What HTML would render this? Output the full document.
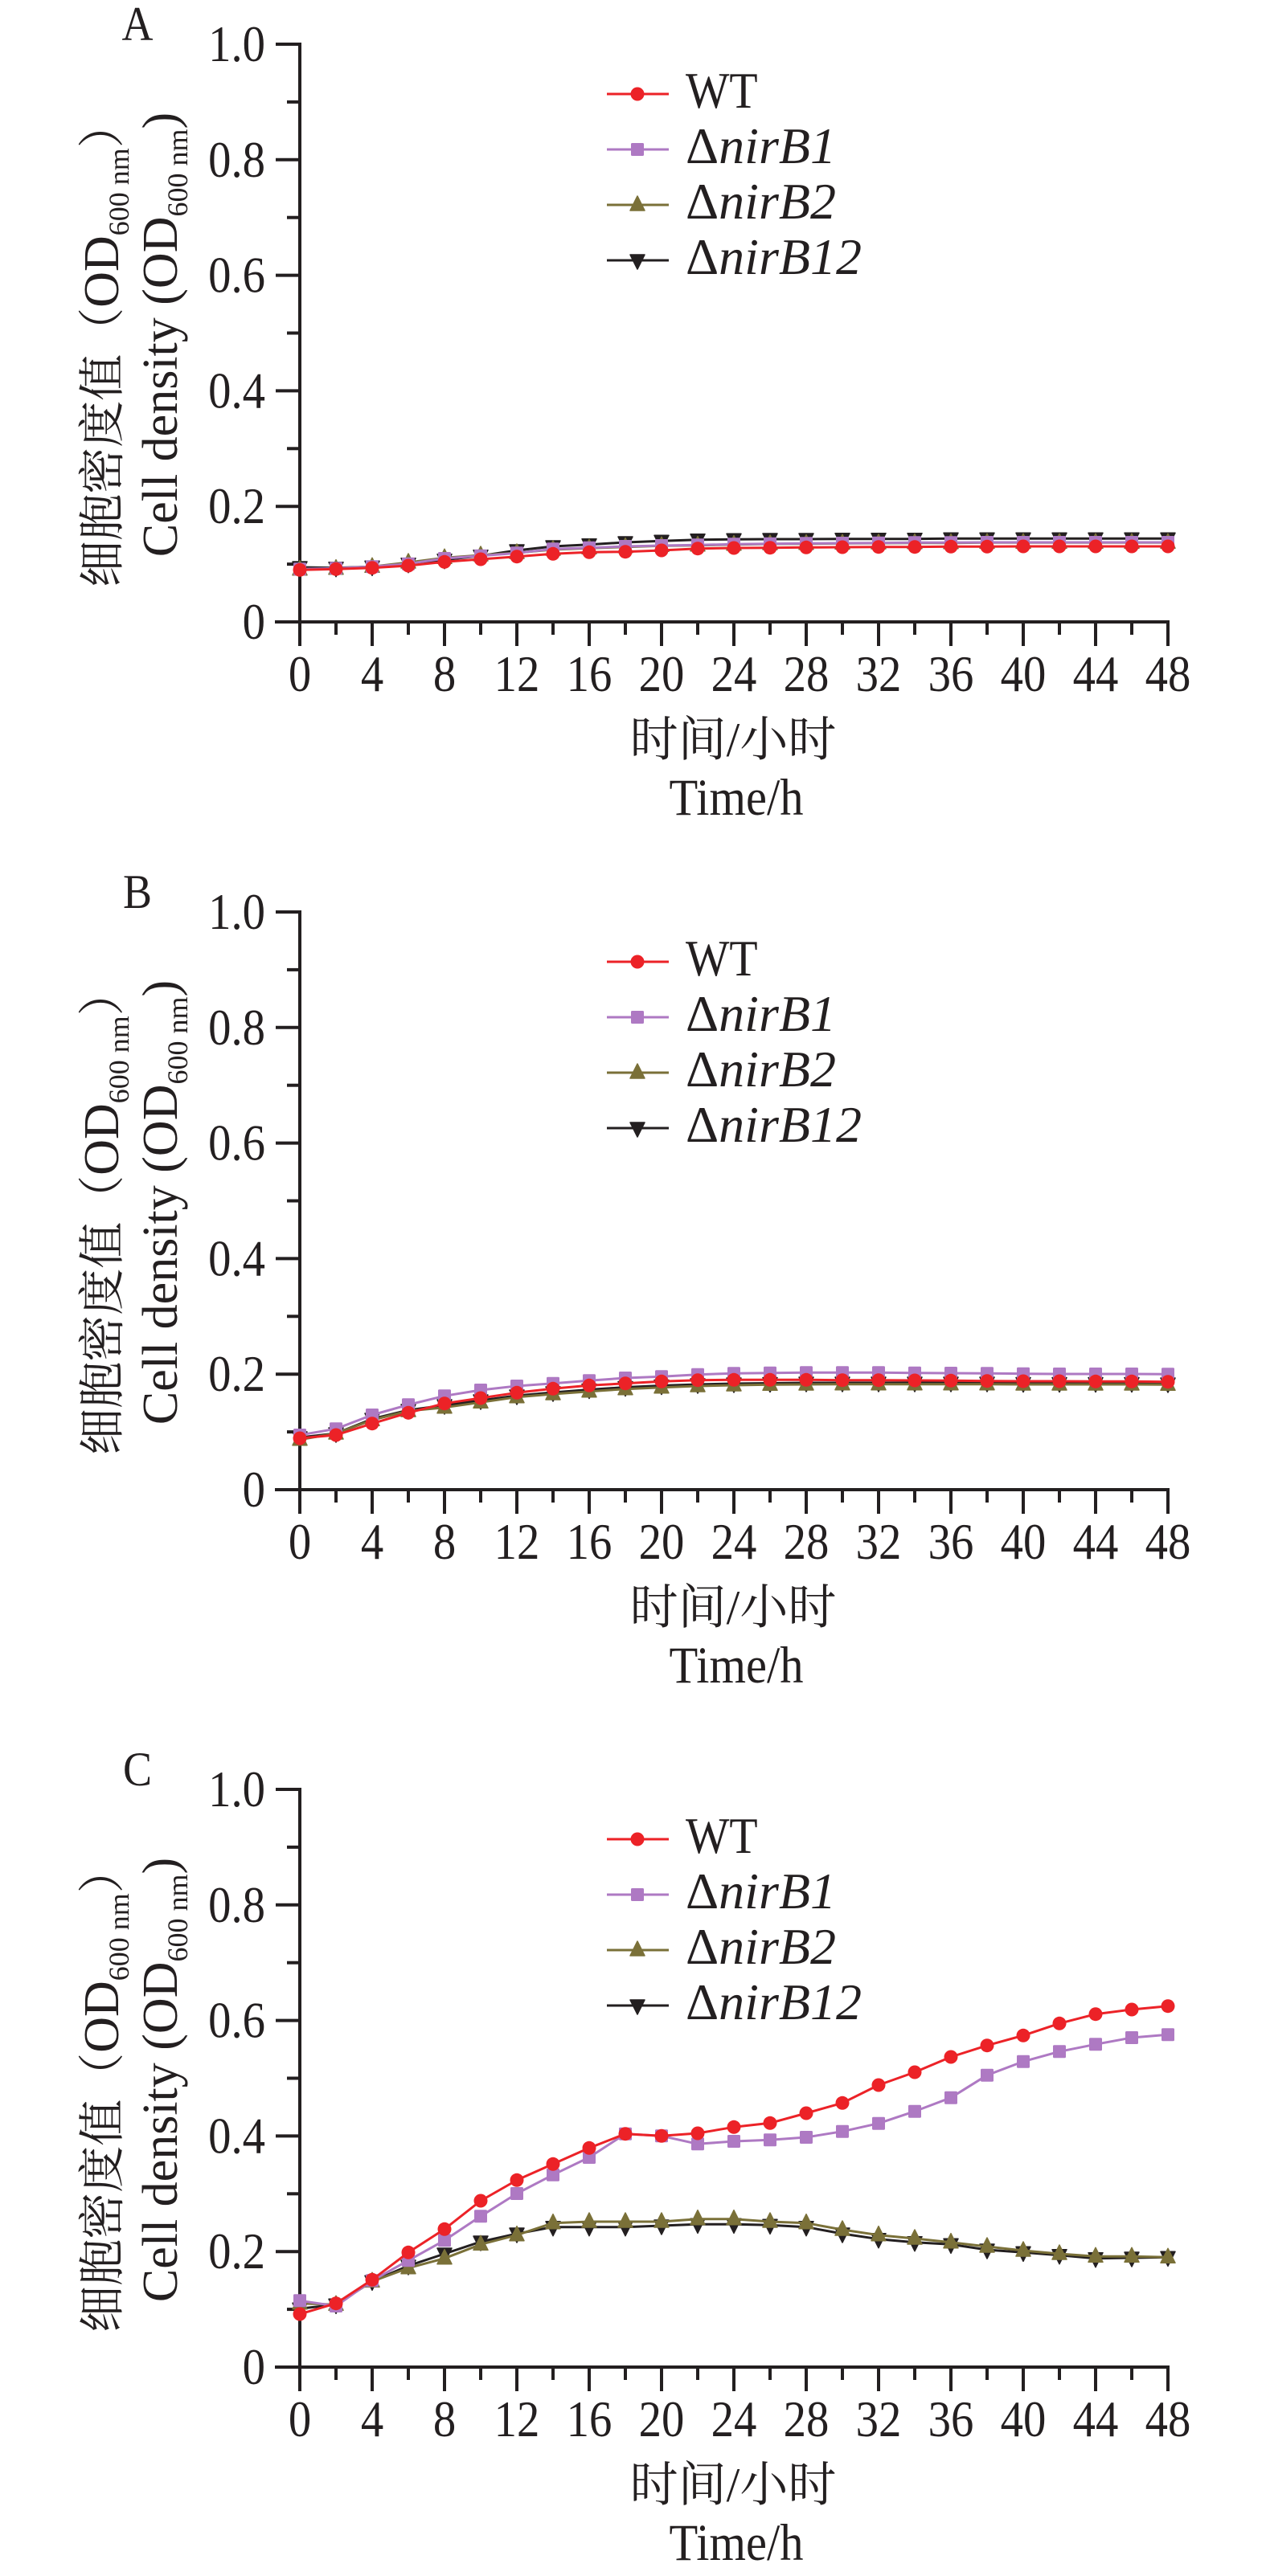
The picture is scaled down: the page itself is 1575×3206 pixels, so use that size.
<!DOCTYPE html>
<html>
<head>
<meta charset="utf-8">
<style>
  html, body { margin: 0; padding: 0; background: #ffffff; }
  svg { display: block; }
  text { font-family: "Liberation Serif", "Noto Serif CJK SC", serif; fill: #231F20; }
</style>
</head>
<body>
<svg width="1575" height="3206" viewBox="0 0 1575 3206" xmlns="http://www.w3.org/2000/svg">
  <rect x="0" y="0" width="1575" height="3206" fill="#ffffff"/>
  <defs>
    <marker id="mWT" markerUnits="userSpaceOnUse" markerWidth="20" markerHeight="20" refX="0" refY="0" overflow="visible">
      <circle cx="0" cy="0" r="8.5" fill="#EC2227"/>
    </marker>
    <marker id="mB1" markerUnits="userSpaceOnUse" markerWidth="20" markerHeight="20" refX="0" refY="0" overflow="visible">
      <rect x="-8" y="-8" width="16" height="16" rx="1.5" fill="#AE79C3"/>
    </marker>
    <marker id="mB2" markerUnits="userSpaceOnUse" markerWidth="20" markerHeight="20" refX="0" refY="0" overflow="visible">
      <polygon points="0,-11 9,7 -9,7" fill="#7A7038" stroke="#7A7038" stroke-width="1.5" stroke-linejoin="round"/>
    </marker>
    <marker id="mB12" markerUnits="userSpaceOnUse" markerWidth="20" markerHeight="20" refX="0" refY="0" overflow="visible">
      <polygon points="0,11 9,-7 -9,-7" fill="#231F20" stroke="#231F20" stroke-width="1.5" stroke-linejoin="round"/>
    </marker>
  </defs>

  <!-- ===================== PANEL TEMPLATE: A ===================== -->
  <g transform="translate(0,55)">
    <text transform="translate(171,-5) scale(0.9,1)" text-anchor="middle" font-size="60">A</text>
    <!-- axes -->
    <g stroke="#231F20" stroke-width="4" fill="none">
      <line x1="373" y1="-2" x2="373" y2="749"/>
      <line x1="342" y1="719" x2="1455" y2="719"/>
      <line x1="343" y1="0" x2="373" y2="0"/>
      <line x1="343" y1="143.8" x2="373" y2="143.8"/>
      <line x1="343" y1="287.6" x2="373" y2="287.6"/>
      <line x1="343" y1="431.4" x2="373" y2="431.4"/>
      <line x1="343" y1="575.2" x2="373" y2="575.2"/>
      <line x1="357" y1="71.9" x2="373" y2="71.9"/>
      <line x1="357" y1="215.7" x2="373" y2="215.7"/>
      <line x1="357" y1="359.5" x2="373" y2="359.5"/>
      <line x1="357" y1="503.3" x2="373" y2="503.3"/>
      <line x1="357" y1="647.1" x2="373" y2="647.1"/>
      <line x1="463" y1="719" x2="463" y2="749"/>
      <line x1="553" y1="719" x2="553" y2="749"/>
      <line x1="643" y1="719" x2="643" y2="749"/>
      <line x1="733" y1="719" x2="733" y2="749"/>
      <line x1="823" y1="719" x2="823" y2="749"/>
      <line x1="913" y1="719" x2="913" y2="749"/>
      <line x1="1003" y1="719" x2="1003" y2="749"/>
      <line x1="1093" y1="719" x2="1093" y2="749"/>
      <line x1="1183" y1="719" x2="1183" y2="749"/>
      <line x1="1273" y1="719" x2="1273" y2="749"/>
      <line x1="1363" y1="719" x2="1363" y2="749"/>
      <line x1="1453" y1="719" x2="1453" y2="749"/>
      <line x1="418" y1="719" x2="418" y2="735"/>
      <line x1="508" y1="719" x2="508" y2="735"/>
      <line x1="598" y1="719" x2="598" y2="735"/>
      <line x1="688" y1="719" x2="688" y2="735"/>
      <line x1="778" y1="719" x2="778" y2="735"/>
      <line x1="868" y1="719" x2="868" y2="735"/>
      <line x1="958" y1="719" x2="958" y2="735"/>
      <line x1="1048" y1="719" x2="1048" y2="735"/>
      <line x1="1138" y1="719" x2="1138" y2="735"/>
      <line x1="1228" y1="719" x2="1228" y2="735"/>
      <line x1="1318" y1="719" x2="1318" y2="735"/>
      <line x1="1408" y1="719" x2="1408" y2="735"/>
    </g>
    <!-- y tick labels -->
    <g font-size="63" text-anchor="end">
      <text transform="translate(330,21) scale(0.9,1)">1.0</text>
      <text transform="translate(330,164.8) scale(0.9,1)">0.8</text>
      <text transform="translate(330,308.6) scale(0.9,1)">0.6</text>
      <text transform="translate(330,452.4) scale(0.9,1)">0.4</text>
      <text transform="translate(330,596.2) scale(0.9,1)">0.2</text>
      <text transform="translate(330,740) scale(0.9,1)">0</text>
    </g>
    <!-- x tick labels -->
    <g font-size="63" text-anchor="middle">
      <text transform="translate(373,805) scale(0.9,1)">0</text>
      <text transform="translate(463,805) scale(0.9,1)">4</text>
      <text transform="translate(553,805) scale(0.9,1)">8</text>
      <text transform="translate(643,805) scale(0.9,1)">12</text>
      <text transform="translate(733,805) scale(0.9,1)">16</text>
      <text transform="translate(823,805) scale(0.9,1)">20</text>
      <text transform="translate(913,805) scale(0.9,1)">24</text>
      <text transform="translate(1003,805) scale(0.9,1)">28</text>
      <text transform="translate(1093,805) scale(0.9,1)">32</text>
      <text transform="translate(1183,805) scale(0.9,1)">36</text>
      <text transform="translate(1273,805) scale(0.9,1)">40</text>
      <text transform="translate(1363,805) scale(0.9,1)">44</text>
      <text transform="translate(1453,805) scale(0.9,1)">48</text>
    </g>
    <!-- axis titles -->
    <text x="912" y="886" text-anchor="middle" font-size="60">时间/小时</text>
    <text transform="translate(916,959) scale(0.9,1)" text-anchor="middle" font-size="65">Time/h</text>
    <text transform="translate(147,373.5) rotate(-90)" text-anchor="middle" font-size="62"><tspan font-size="58">细胞密度值（</tspan>OD<tspan font-size="36" dy="13">600 nm</tspan><tspan font-size="58" dy="-13">）</tspan></text>
    <text transform="translate(220,361.5) rotate(-90)" text-anchor="middle" font-size="62">Cell density (OD<tspan font-size="36" dy="13">600 nm</tspan><tspan dy="-13">)</tspan></text>
    <!-- legend -->
    <polyline points="755,62 793,62 832,62" fill="none" stroke="#EC2227" stroke-width="3" marker-mid="url(#mWT)"/>
    <polyline points="755,131 793,131 832,131" fill="none" stroke="#AE79C3" stroke-width="3" marker-mid="url(#mB1)"/>
    <polyline points="755,200 793,200 832,200" fill="none" stroke="#7A7038" stroke-width="3" marker-mid="url(#mB2)"/>
    <polyline points="755,269 793,269 832,269" fill="none" stroke="#231F20" stroke-width="3" marker-mid="url(#mB12)"/>
    <text transform="translate(853,79) scale(0.9,1)" font-size="64">WT</text>
    <text x="853" y="148" font-size="64">Δ<tspan font-style="italic">nirB1</tspan></text>
    <text x="853" y="217" font-size="64">Δ<tspan font-style="italic">nirB2</tspan></text>
    <text x="853" y="286" font-size="64">Δ<tspan font-style="italic">nirB12</tspan></text>
  </g>

  <!-- ===================== PANEL B ===================== -->
  <g transform="translate(0,1135)">
    <text transform="translate(171,-5) scale(0.9,1)" text-anchor="middle" font-size="60">B</text>
    <g stroke="#231F20" stroke-width="4" fill="none">
      <line x1="373" y1="-2" x2="373" y2="749"/>
      <line x1="342" y1="719" x2="1455" y2="719"/>
      <line x1="343" y1="0" x2="373" y2="0"/>
      <line x1="343" y1="143.8" x2="373" y2="143.8"/>
      <line x1="343" y1="287.6" x2="373" y2="287.6"/>
      <line x1="343" y1="431.4" x2="373" y2="431.4"/>
      <line x1="343" y1="575.2" x2="373" y2="575.2"/>
      <line x1="357" y1="71.9" x2="373" y2="71.9"/>
      <line x1="357" y1="215.7" x2="373" y2="215.7"/>
      <line x1="357" y1="359.5" x2="373" y2="359.5"/>
      <line x1="357" y1="503.3" x2="373" y2="503.3"/>
      <line x1="357" y1="647.1" x2="373" y2="647.1"/>
      <line x1="463" y1="719" x2="463" y2="749"/>
      <line x1="553" y1="719" x2="553" y2="749"/>
      <line x1="643" y1="719" x2="643" y2="749"/>
      <line x1="733" y1="719" x2="733" y2="749"/>
      <line x1="823" y1="719" x2="823" y2="749"/>
      <line x1="913" y1="719" x2="913" y2="749"/>
      <line x1="1003" y1="719" x2="1003" y2="749"/>
      <line x1="1093" y1="719" x2="1093" y2="749"/>
      <line x1="1183" y1="719" x2="1183" y2="749"/>
      <line x1="1273" y1="719" x2="1273" y2="749"/>
      <line x1="1363" y1="719" x2="1363" y2="749"/>
      <line x1="1453" y1="719" x2="1453" y2="749"/>
      <line x1="418" y1="719" x2="418" y2="735"/>
      <line x1="508" y1="719" x2="508" y2="735"/>
      <line x1="598" y1="719" x2="598" y2="735"/>
      <line x1="688" y1="719" x2="688" y2="735"/>
      <line x1="778" y1="719" x2="778" y2="735"/>
      <line x1="868" y1="719" x2="868" y2="735"/>
      <line x1="958" y1="719" x2="958" y2="735"/>
      <line x1="1048" y1="719" x2="1048" y2="735"/>
      <line x1="1138" y1="719" x2="1138" y2="735"/>
      <line x1="1228" y1="719" x2="1228" y2="735"/>
      <line x1="1318" y1="719" x2="1318" y2="735"/>
      <line x1="1408" y1="719" x2="1408" y2="735"/>
    </g>
    <g font-size="63" text-anchor="end">
      <text transform="translate(330,21) scale(0.9,1)">1.0</text>
      <text transform="translate(330,164.8) scale(0.9,1)">0.8</text>
      <text transform="translate(330,308.6) scale(0.9,1)">0.6</text>
      <text transform="translate(330,452.4) scale(0.9,1)">0.4</text>
      <text transform="translate(330,596.2) scale(0.9,1)">0.2</text>
      <text transform="translate(330,740) scale(0.9,1)">0</text>
    </g>
    <g font-size="63" text-anchor="middle">
      <text transform="translate(373,805) scale(0.9,1)">0</text>
      <text transform="translate(463,805) scale(0.9,1)">4</text>
      <text transform="translate(553,805) scale(0.9,1)">8</text>
      <text transform="translate(643,805) scale(0.9,1)">12</text>
      <text transform="translate(733,805) scale(0.9,1)">16</text>
      <text transform="translate(823,805) scale(0.9,1)">20</text>
      <text transform="translate(913,805) scale(0.9,1)">24</text>
      <text transform="translate(1003,805) scale(0.9,1)">28</text>
      <text transform="translate(1093,805) scale(0.9,1)">32</text>
      <text transform="translate(1183,805) scale(0.9,1)">36</text>
      <text transform="translate(1273,805) scale(0.9,1)">40</text>
      <text transform="translate(1363,805) scale(0.9,1)">44</text>
      <text transform="translate(1453,805) scale(0.9,1)">48</text>
    </g>
    <text x="912" y="886" text-anchor="middle" font-size="60">时间/小时</text>
    <text transform="translate(916,959) scale(0.9,1)" text-anchor="middle" font-size="65">Time/h</text>
    <text transform="translate(147,373.5) rotate(-90)" text-anchor="middle" font-size="62"><tspan font-size="58">细胞密度值（</tspan>OD<tspan font-size="36" dy="13">600 nm</tspan><tspan font-size="58" dy="-13">）</tspan></text>
    <text transform="translate(220,361.5) rotate(-90)" text-anchor="middle" font-size="62">Cell density (OD<tspan font-size="36" dy="13">600 nm</tspan><tspan dy="-13">)</tspan></text>
    <polyline points="755,62 793,62 832,62" fill="none" stroke="#EC2227" stroke-width="3" marker-mid="url(#mWT)"/>
    <polyline points="755,131 793,131 832,131" fill="none" stroke="#AE79C3" stroke-width="3" marker-mid="url(#mB1)"/>
    <polyline points="755,200 793,200 832,200" fill="none" stroke="#7A7038" stroke-width="3" marker-mid="url(#mB2)"/>
    <polyline points="755,269 793,269 832,269" fill="none" stroke="#231F20" stroke-width="3" marker-mid="url(#mB12)"/>
    <text transform="translate(853,79) scale(0.9,1)" font-size="64">WT</text>
    <text x="853" y="148" font-size="64">Δ<tspan font-style="italic">nirB1</tspan></text>
    <text x="853" y="217" font-size="64">Δ<tspan font-style="italic">nirB2</tspan></text>
    <text x="853" y="286" font-size="64">Δ<tspan font-style="italic">nirB12</tspan></text>
  </g>

  <!-- ===================== PANEL C ===================== -->
  <g transform="translate(0,2227)">
    <text transform="translate(171,-5) scale(0.9,1)" text-anchor="middle" font-size="60">C</text>
    <g stroke="#231F20" stroke-width="4" fill="none">
      <line x1="373" y1="-2" x2="373" y2="749"/>
      <line x1="342" y1="719" x2="1455" y2="719"/>
      <line x1="343" y1="0" x2="373" y2="0"/>
      <line x1="343" y1="143.8" x2="373" y2="143.8"/>
      <line x1="343" y1="287.6" x2="373" y2="287.6"/>
      <line x1="343" y1="431.4" x2="373" y2="431.4"/>
      <line x1="343" y1="575.2" x2="373" y2="575.2"/>
      <line x1="357" y1="71.9" x2="373" y2="71.9"/>
      <line x1="357" y1="215.7" x2="373" y2="215.7"/>
      <line x1="357" y1="359.5" x2="373" y2="359.5"/>
      <line x1="357" y1="503.3" x2="373" y2="503.3"/>
      <line x1="357" y1="647.1" x2="373" y2="647.1"/>
      <line x1="463" y1="719" x2="463" y2="749"/>
      <line x1="553" y1="719" x2="553" y2="749"/>
      <line x1="643" y1="719" x2="643" y2="749"/>
      <line x1="733" y1="719" x2="733" y2="749"/>
      <line x1="823" y1="719" x2="823" y2="749"/>
      <line x1="913" y1="719" x2="913" y2="749"/>
      <line x1="1003" y1="719" x2="1003" y2="749"/>
      <line x1="1093" y1="719" x2="1093" y2="749"/>
      <line x1="1183" y1="719" x2="1183" y2="749"/>
      <line x1="1273" y1="719" x2="1273" y2="749"/>
      <line x1="1363" y1="719" x2="1363" y2="749"/>
      <line x1="1453" y1="719" x2="1453" y2="749"/>
      <line x1="418" y1="719" x2="418" y2="735"/>
      <line x1="508" y1="719" x2="508" y2="735"/>
      <line x1="598" y1="719" x2="598" y2="735"/>
      <line x1="688" y1="719" x2="688" y2="735"/>
      <line x1="778" y1="719" x2="778" y2="735"/>
      <line x1="868" y1="719" x2="868" y2="735"/>
      <line x1="958" y1="719" x2="958" y2="735"/>
      <line x1="1048" y1="719" x2="1048" y2="735"/>
      <line x1="1138" y1="719" x2="1138" y2="735"/>
      <line x1="1228" y1="719" x2="1228" y2="735"/>
      <line x1="1318" y1="719" x2="1318" y2="735"/>
      <line x1="1408" y1="719" x2="1408" y2="735"/>
    </g>
    <g font-size="63" text-anchor="end">
      <text transform="translate(330,21) scale(0.9,1)">1.0</text>
      <text transform="translate(330,164.8) scale(0.9,1)">0.8</text>
      <text transform="translate(330,308.6) scale(0.9,1)">0.6</text>
      <text transform="translate(330,452.4) scale(0.9,1)">0.4</text>
      <text transform="translate(330,596.2) scale(0.9,1)">0.2</text>
      <text transform="translate(330,740) scale(0.9,1)">0</text>
    </g>
    <g font-size="63" text-anchor="middle">
      <text transform="translate(373,805) scale(0.9,1)">0</text>
      <text transform="translate(463,805) scale(0.9,1)">4</text>
      <text transform="translate(553,805) scale(0.9,1)">8</text>
      <text transform="translate(643,805) scale(0.9,1)">12</text>
      <text transform="translate(733,805) scale(0.9,1)">16</text>
      <text transform="translate(823,805) scale(0.9,1)">20</text>
      <text transform="translate(913,805) scale(0.9,1)">24</text>
      <text transform="translate(1003,805) scale(0.9,1)">28</text>
      <text transform="translate(1093,805) scale(0.9,1)">32</text>
      <text transform="translate(1183,805) scale(0.9,1)">36</text>
      <text transform="translate(1273,805) scale(0.9,1)">40</text>
      <text transform="translate(1363,805) scale(0.9,1)">44</text>
      <text transform="translate(1453,805) scale(0.9,1)">48</text>
    </g>
    <text x="912" y="886" text-anchor="middle" font-size="60">时间/小时</text>
    <text transform="translate(916,959) scale(0.9,1)" text-anchor="middle" font-size="65">Time/h</text>
    <text transform="translate(147,373.5) rotate(-90)" text-anchor="middle" font-size="62"><tspan font-size="58">细胞密度值（</tspan>OD<tspan font-size="36" dy="13">600 nm</tspan><tspan font-size="58" dy="-13">）</tspan></text>
    <text transform="translate(220,361.5) rotate(-90)" text-anchor="middle" font-size="62">Cell density (OD<tspan font-size="36" dy="13">600 nm</tspan><tspan dy="-13">)</tspan></text>
    <polyline points="755,62 793,62 832,62" fill="none" stroke="#EC2227" stroke-width="3" marker-mid="url(#mWT)"/>
    <polyline points="755,131 793,131 832,131" fill="none" stroke="#AE79C3" stroke-width="3" marker-mid="url(#mB1)"/>
    <polyline points="755,200 793,200 832,200" fill="none" stroke="#7A7038" stroke-width="3" marker-mid="url(#mB2)"/>
    <polyline points="755,269 793,269 832,269" fill="none" stroke="#231F20" stroke-width="3" marker-mid="url(#mB12)"/>
    <text transform="translate(853,79) scale(0.9,1)" font-size="64">WT</text>
    <text x="853" y="148" font-size="64">Δ<tspan font-style="italic">nirB1</tspan></text>
    <text x="853" y="217" font-size="64">Δ<tspan font-style="italic">nirB2</tspan></text>
    <text x="853" y="286" font-size="64">Δ<tspan font-style="italic">nirB12</tspan></text>
  </g>

  <!-- ===================== DATA SERIES ===================== -->
  <g fill="none" stroke-width="3" stroke-linejoin="round">
    <!-- Panel A -->
    <polyline stroke="#231F20" marker-start="url(#mB12)" marker-mid="url(#mB12)" marker-end="url(#mB12)"
      points="373,706 418,706.7 463,705.3 508,701.7 553,696.7 598,691.7 643,685 688,680 733,677.7 778,675 823,673.3 868,671.7 913,671.3 958,671 1003,671 1048,670.7 1093,670.7 1138,670.7 1183,670.3 1228,670.3 1273,670.3 1318,670.3 1363,670.3 1408,670.3 1453,670.3"/>
    <polyline stroke="#7A7038" marker-start="url(#mB2)" marker-mid="url(#mB2)" marker-end="url(#mB2)"
      points="373,708.7 418,707.7 463,705.3 508,700 553,694.3 598,691 643,688 688,684 733,682.3 778,680.7 823,679.3 868,678.7 913,677.7 958,677 1003,676.7 1048,676.3 1093,676 1138,675.7 1183,675.7 1228,675.3 1273,675.3 1318,675.3 1363,675.3 1408,675.3 1453,675.3"/>
    <polyline stroke="#AE79C3" marker-start="url(#mB1)" marker-mid="url(#mB1)" marker-end="url(#mB1)"
      points="373,708.3 418,707.3 463,705.3 508,701.7 553,695 598,691.7 643,688.3 688,683.3 733,681.7 778,680 823,679 868,678.3 913,677.3 958,676.7 1003,676.3 1048,676 1093,675.7 1138,675.3 1183,675.3 1228,675 1273,675 1318,675 1363,675 1408,675 1453,675"/>
    <polyline stroke="#EC2227" marker-start="url(#mWT)" marker-mid="url(#mWT)" marker-end="url(#mWT)"
      points="373,709.3 418,708.3 463,706.7 508,704 553,699.3 598,696 643,692.7 688,689.3 733,687.3 778,686.7 823,685 868,682.7 913,682 958,681.7 1003,681.3 1048,681 1093,680.7 1138,680.7 1183,680.3 1228,680.3 1273,680 1318,680 1363,680 1408,680 1453,680"/>

    <!-- Panel B -->
    <polyline stroke="#231F20" marker-start="url(#mB12)" marker-mid="url(#mB12)" marker-end="url(#mB12)"
      points="373,1789 418,1784 463,1766 508,1755 553,1749 598,1743 643,1737 688,1733 733,1729.5 778,1726.5 823,1724.5 868,1723 913,1722 958,1721.5 1003,1721 1048,1721 1093,1721 1138,1721 1183,1721 1228,1721 1273,1721.5 1318,1721.5 1363,1721.5 1408,1721.5 1453,1722"/>
    <polyline stroke="#7A7038" marker-start="url(#mB2)" marker-mid="url(#mB2)" marker-end="url(#mB2)"
      points="373,1791.7 418,1784 463,1767.3 508,1756 553,1751.7 598,1745.3 643,1738.7 688,1735 733,1731.7 778,1728.7 823,1726.7 868,1725 913,1724 958,1723.3 1003,1723 1048,1722.7 1093,1722.7 1138,1722.7 1183,1722.7 1228,1722.7 1273,1723 1318,1723 1363,1723 1408,1723 1453,1723.3"/>
    <polyline stroke="#AE79C3" marker-start="url(#mB1)" marker-mid="url(#mB1)" marker-end="url(#mB1)"
      points="373,1786 418,1778.3 463,1761 508,1748.3 553,1737.3 598,1730 643,1725 688,1721.7 733,1718.3 778,1715 823,1713.3 868,1710.7 913,1709.3 958,1708.7 1003,1708.3 1048,1708.3 1093,1708.3 1138,1708.7 1183,1709 1228,1709.3 1273,1709.7 1318,1710 1363,1710 1408,1710 1453,1710.3"/>
    <polyline stroke="#EC2227" marker-start="url(#mWT)" marker-mid="url(#mWT)" marker-end="url(#mWT)"
      points="373,1790 418,1786 463,1771.7 508,1758.3 553,1746.7 598,1740 643,1733.3 688,1728.3 733,1724.3 778,1721.7 823,1719.3 868,1717.7 913,1717.3 958,1717.3 1003,1717.3 1048,1717.7 1093,1717.7 1138,1718 1183,1718.3 1228,1718.7 1273,1719 1318,1719 1363,1719.3 1408,1719.3 1453,1719.7"/>

    <!-- Panel C -->
    <polyline stroke="#231F20" marker-start="url(#mB12)" marker-mid="url(#mB12)" marker-end="url(#mB12)"
      points="373,2873.3 418,2868.3 463,2839.3 508,2820 553,2805 598,2790 643,2780 688,2771.7 733,2771.7 778,2771.7 823,2770 868,2768.3 913,2768.3 958,2769.3 1003,2771.7 1048,2780 1093,2786.7 1138,2790.7 1183,2793.3 1228,2800 1273,2803.3 1318,2806.7 1363,2810.7 1408,2810 1453,2809.3"/>
    <polyline stroke="#7A7038" marker-start="url(#mB2)" marker-mid="url(#mB2)" marker-end="url(#mB2)"
      points="373,2866.7 418,2868.3 463,2839.3 508,2822.7 553,2810.7 598,2793.3 643,2781.7 688,2766.7 733,2765 778,2765 823,2765 868,2761.7 913,2761.7 958,2765 1003,2766.7 1048,2775 1093,2781.7 1138,2786 1183,2790.7 1228,2796 1273,2801 1318,2805 1363,2808.3 1408,2808.3 1453,2809.3"/>
    <polyline stroke="#AE79C3" marker-start="url(#mB1)" marker-mid="url(#mB1)" marker-end="url(#mB1)"
      points="373,2863.3 418,2870 463,2838.3 508,2813.3 553,2788.3 598,2758.3 643,2730 688,2706.7 733,2685 778,2655.7 823,2658.3 868,2668.3 913,2665 958,2663.3 1003,2660 1048,2652.7 1093,2642.7 1138,2627.7 1183,2610.7 1228,2582.7 1273,2565.7 1318,2553.3 1363,2544.3 1408,2536 1453,2532.3"/>
    <polyline stroke="#EC2227" marker-start="url(#mWT)" marker-mid="url(#mWT)" marker-end="url(#mWT)"
      points="373,2880 418,2866.7 463,2837.3 508,2803.3 553,2774.3 598,2739 643,2713.3 688,2693.3 733,2673.3 778,2655.7 823,2658.3 868,2655 913,2647.3 958,2642.3 1003,2630 1048,2617.3 1093,2595 1138,2579 1183,2560 1228,2545.7 1273,2533.3 1318,2518.3 1363,2506.7 1408,2501 1453,2496.7"/>
  </g>
</svg>
</body>
</html>
